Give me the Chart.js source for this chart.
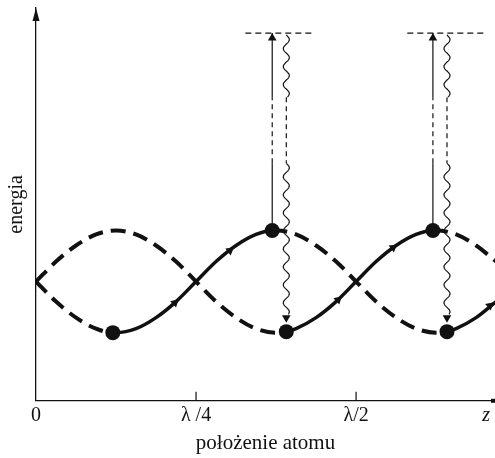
<!DOCTYPE html>
<html>
<head>
<meta charset="utf-8">
<script src="https://cdn.jsdelivr.net/npm/chart.js@4.4.1/dist/chart.umd.min.js"></script>
<style>
  html, body { margin: 0; padding: 0; background: #fff; }
  canvas { display: block; }
</style>
</head>
<body>
<canvas id="chart" width="495" height="458"></canvas>
<script>
// atom position in units of lambda, energy in arbitrary units
const curveAX = [0, 0.03125, 0.0625, 0.09375, 0.125, 0.15625, 0.1875, 0.21875, 0.25, 0.28125, 0.3125, 0.34375, 0.375, 0.391, 0.40625, 0.4375, 0.46875, 0.5, 0.53125, 0.5625, 0.59375, 0.62, 0.625, 0.65625, 0.6875, 0.71875];
const curveAY = [119, 139, 155, 166, 170, 166, 155, 139, 119, 99, 83, 72, 68, 69, 72, 83, 99, 119, 139, 155, 166, 170, 170, 166, 155, 139];
const curveBX = [0, 0.03125, 0.0625, 0.09375, 0.12, 0.125, 0.15625, 0.1875, 0.21875, 0.25, 0.28125, 0.3125, 0.34375, 0.369, 0.375, 0.40625, 0.4375, 0.46875, 0.5, 0.53125, 0.5625, 0.59375, 0.625, 0.642, 0.65625, 0.6875, 0.71875];
const curveBY = [119, 99, 83, 72, 68, 68, 72, 83, 99, 119, 139, 155, 166, 170, 170, 166, 155, 139, 119, 99, 83, 72, 68, 69, 72, 83, 99];

// parts of each curve the atom actually travels along
const solidOnA = [[0.391, 0.62]];
const solidOnB = [[0.12, 0.369], [0.642, 0.72]];

const dotX = [0.12, 0.369, 0.391, 0.62, 0.642];
const dotY = [68, 170, 69, 170, 69];

const flowX = [0.217, 0.303, 0.472, 0.558, 0.709];
const flowY = [98, 150, 101, 153, 95];
const flowAngle = [47, 52, 47, 53, 49];

// optical pumping up, spontaneous emission down
const pumpX = [0.369, 0.62];
const photonX = [0.391, 0.642];
const excitedLevel = 367;
const gapLow = 237;
const gapHigh = 303;
const photonTop = 365;
const photonBottom = 86;
const levelSpans = [[0.327, 0.436], [0.58, 0.702]];

const xTicks = [0, 0.25, 0.5, 0.703];
const xTickLabels = ['0', 'λ /4', 'λ/2', 'z'];
const tickMarks = [0.25, 0.5];

const ink = '#111';
const serif = "'Liberation Serif', 'DejaVu Serif', serif";

const pts = (xs, ys) => xs.map((v, i) => ({ x: v, y: ys[i] }));
const inRanges = (ranges, c) => ranges.some(([a, b]) => c.p0.parsed.x >= a - 1e-6 && c.p1.parsed.x <= b + 1e-6);

function wavy(ctx, cx, y0, y1, amp, wl) {
  ctx.beginPath();
  ctx.moveTo(cx, y0);
  const len = y1 - y0;
  for (let t = 0; t <= len; t += 0.5) {
    ctx.lineTo(cx + amp * Math.sin(2 * Math.PI * t / wl), y0 + t);
  }
  ctx.stroke();
}

const decorations = {
  id: 'decorations',
  afterDatasetsDraw(chart) {
    const { ctx, chartArea, scales: { x, y } } = chart;
    ctx.save();
    ctx.strokeStyle = ink;
    ctx.fillStyle = ink;
    ctx.lineWidth = 1.2;

    photonX.forEach(v => {
      const cx = x.getPixelForValue(v);
      wavy(ctx, cx, y.getPixelForValue(photonTop), y.getPixelForValue(gapHigh), 3, 18);
      ctx.setLineDash([5, 4]);
      ctx.beginPath();
      ctx.moveTo(cx, y.getPixelForValue(gapHigh));
      ctx.lineTo(cx, y.getPixelForValue(gapLow));
      ctx.stroke();
      ctx.setLineDash([]);
      wavy(ctx, cx, y.getPixelForValue(gapLow), y.getPixelForValue(photonBottom), 3, 18);
    });

    tickMarks.forEach(v => {
      const px = x.getPixelForValue(v);
      ctx.beginPath();
      ctx.moveTo(px, chartArea.bottom);
      ctx.lineTo(px, chartArea.bottom - 9);
      ctx.stroke();
    });

    // arrow on the energy axis
    ctx.beginPath();
    ctx.moveTo(chartArea.left, chartArea.top);
    ctx.lineTo(chartArea.left - 3.5, chartArea.top + 13);
    ctx.lineTo(chartArea.left + 3.5, chartArea.top + 13);
    ctx.closePath();
    ctx.fill();

    ctx.fillRect(chartArea.right - 4, chartArea.bottom - 2, 4, 4);
    ctx.restore();
  }
};

new Chart(document.getElementById('chart'), {
  type: 'line',
  data: {
    datasets: [
      {
        data: pts(dotX, dotY),
        showLine: false,
        pointRadius: 7.5,
        pointBackgroundColor: ink,
        pointBorderWidth: 0
      },
      {
        data: pts(flowX, flowY),
        showLine: false,
        pointStyle: 'triangle',
        pointRadius: 5,
        pointRotation: flowAngle,
        pointBackgroundColor: ink,
        pointBorderWidth: 0
      },
      {
        data: pumpX.map(v => ({ x: v, y: excitedLevel - 5 })),
        showLine: false,
        pointStyle: 'triangle',
        pointRadius: 5,
        pointBackgroundColor: ink,
        pointBorderWidth: 0
      },
      {
        data: photonX.map(v => ({ x: v, y: photonBottom - 3 })),
        showLine: false,
        pointStyle: 'triangle',
        pointRadius: 5,
        pointRotation: 180,
        pointBackgroundColor: ink,
        pointBorderWidth: 0
      },
      {
        data: pts(curveAX, curveAY),
        borderColor: ink,
        borderWidth: 4,
        pointRadius: 0,
        cubicInterpolationMode: 'monotone',
        segment: {
          borderDash: c => inRanges(solidOnA, c) ? [] : [15, 8],
          borderWidth: c => inRanges(solidOnA, c) ? 3.5 : 4
        }
      },
      {
        data: pts(curveBX, curveBY),
        borderColor: ink,
        borderWidth: 4,
        pointRadius: 0,
        cubicInterpolationMode: 'monotone',
        segment: {
          borderDash: c => inRanges(solidOnB, c) ? [] : [15, 8],
          borderWidth: c => inRanges(solidOnB, c) ? 3.5 : 4
        }
      },
      ...pumpX.map(v => ({
        data: [170, gapLow, gapHigh, excitedLevel].map(e => ({ x: v, y: e })),
        borderColor: ink,
        borderWidth: 1.2,
        pointRadius: 0,
        tension: 0,
        segment: { borderDash: c => c.p0DataIndex === 1 ? [5, 4] : [] }
      })),
      ...levelSpans.map(([a, b]) => ({
        data: [{ x: a, y: excitedLevel }, { x: b, y: excitedLevel }],
        borderColor: ink,
        borderWidth: 1.2,
        borderDash: [6, 4],
        pointRadius: 0
      }))
    ]
  },
  options: {
    responsive: false,
    animation: false,
    layout: { autoPadding: false, padding: { left: 2, top: 8, right: 0, bottom: 0 } },
    plugins: { legend: { display: false }, tooltip: { enabled: false } },
    scales: {
      x: {
        type: 'linear',
        min: 0,
        max: 0.717,
        grid: { display: false, drawTicks: false },
        border: { color: ink, width: 1.3 },
        afterBuildTicks: s => { s.ticks = xTicks.map(v => ({ value: v })); },
        afterFit: s => { s.paddingRight = 0; },
        ticks: {
          padding: 3,
          color: ink,
          maxRotation: 0,
          autoSkip: false,
          font: c => ({ family: serif, size: 20, style: c.index === 3 ? 'italic' : 'normal' }),
          callback: (v, i) => xTickLabels[i]
        },
        title: {
          display: true,
          text: 'położenie atomu',
          color: ink,
          font: { family: serif, size: 21 },
          padding: { top: 0, bottom: 2 }
        }
      },
      y: {
        min: 0,
        max: 392,
        grid: { display: false, drawTicks: false },
        border: { color: ink, width: 1.3 },
        ticks: { display: false },
        title: {
          display: true,
          text: 'energia',
          color: ink,
          font: { family: serif, size: 20 },
          padding: { top: 3, bottom: 7 }
        }
      }
    }
  },
  plugins: [decorations]
});
</script>
</body>
</html>
